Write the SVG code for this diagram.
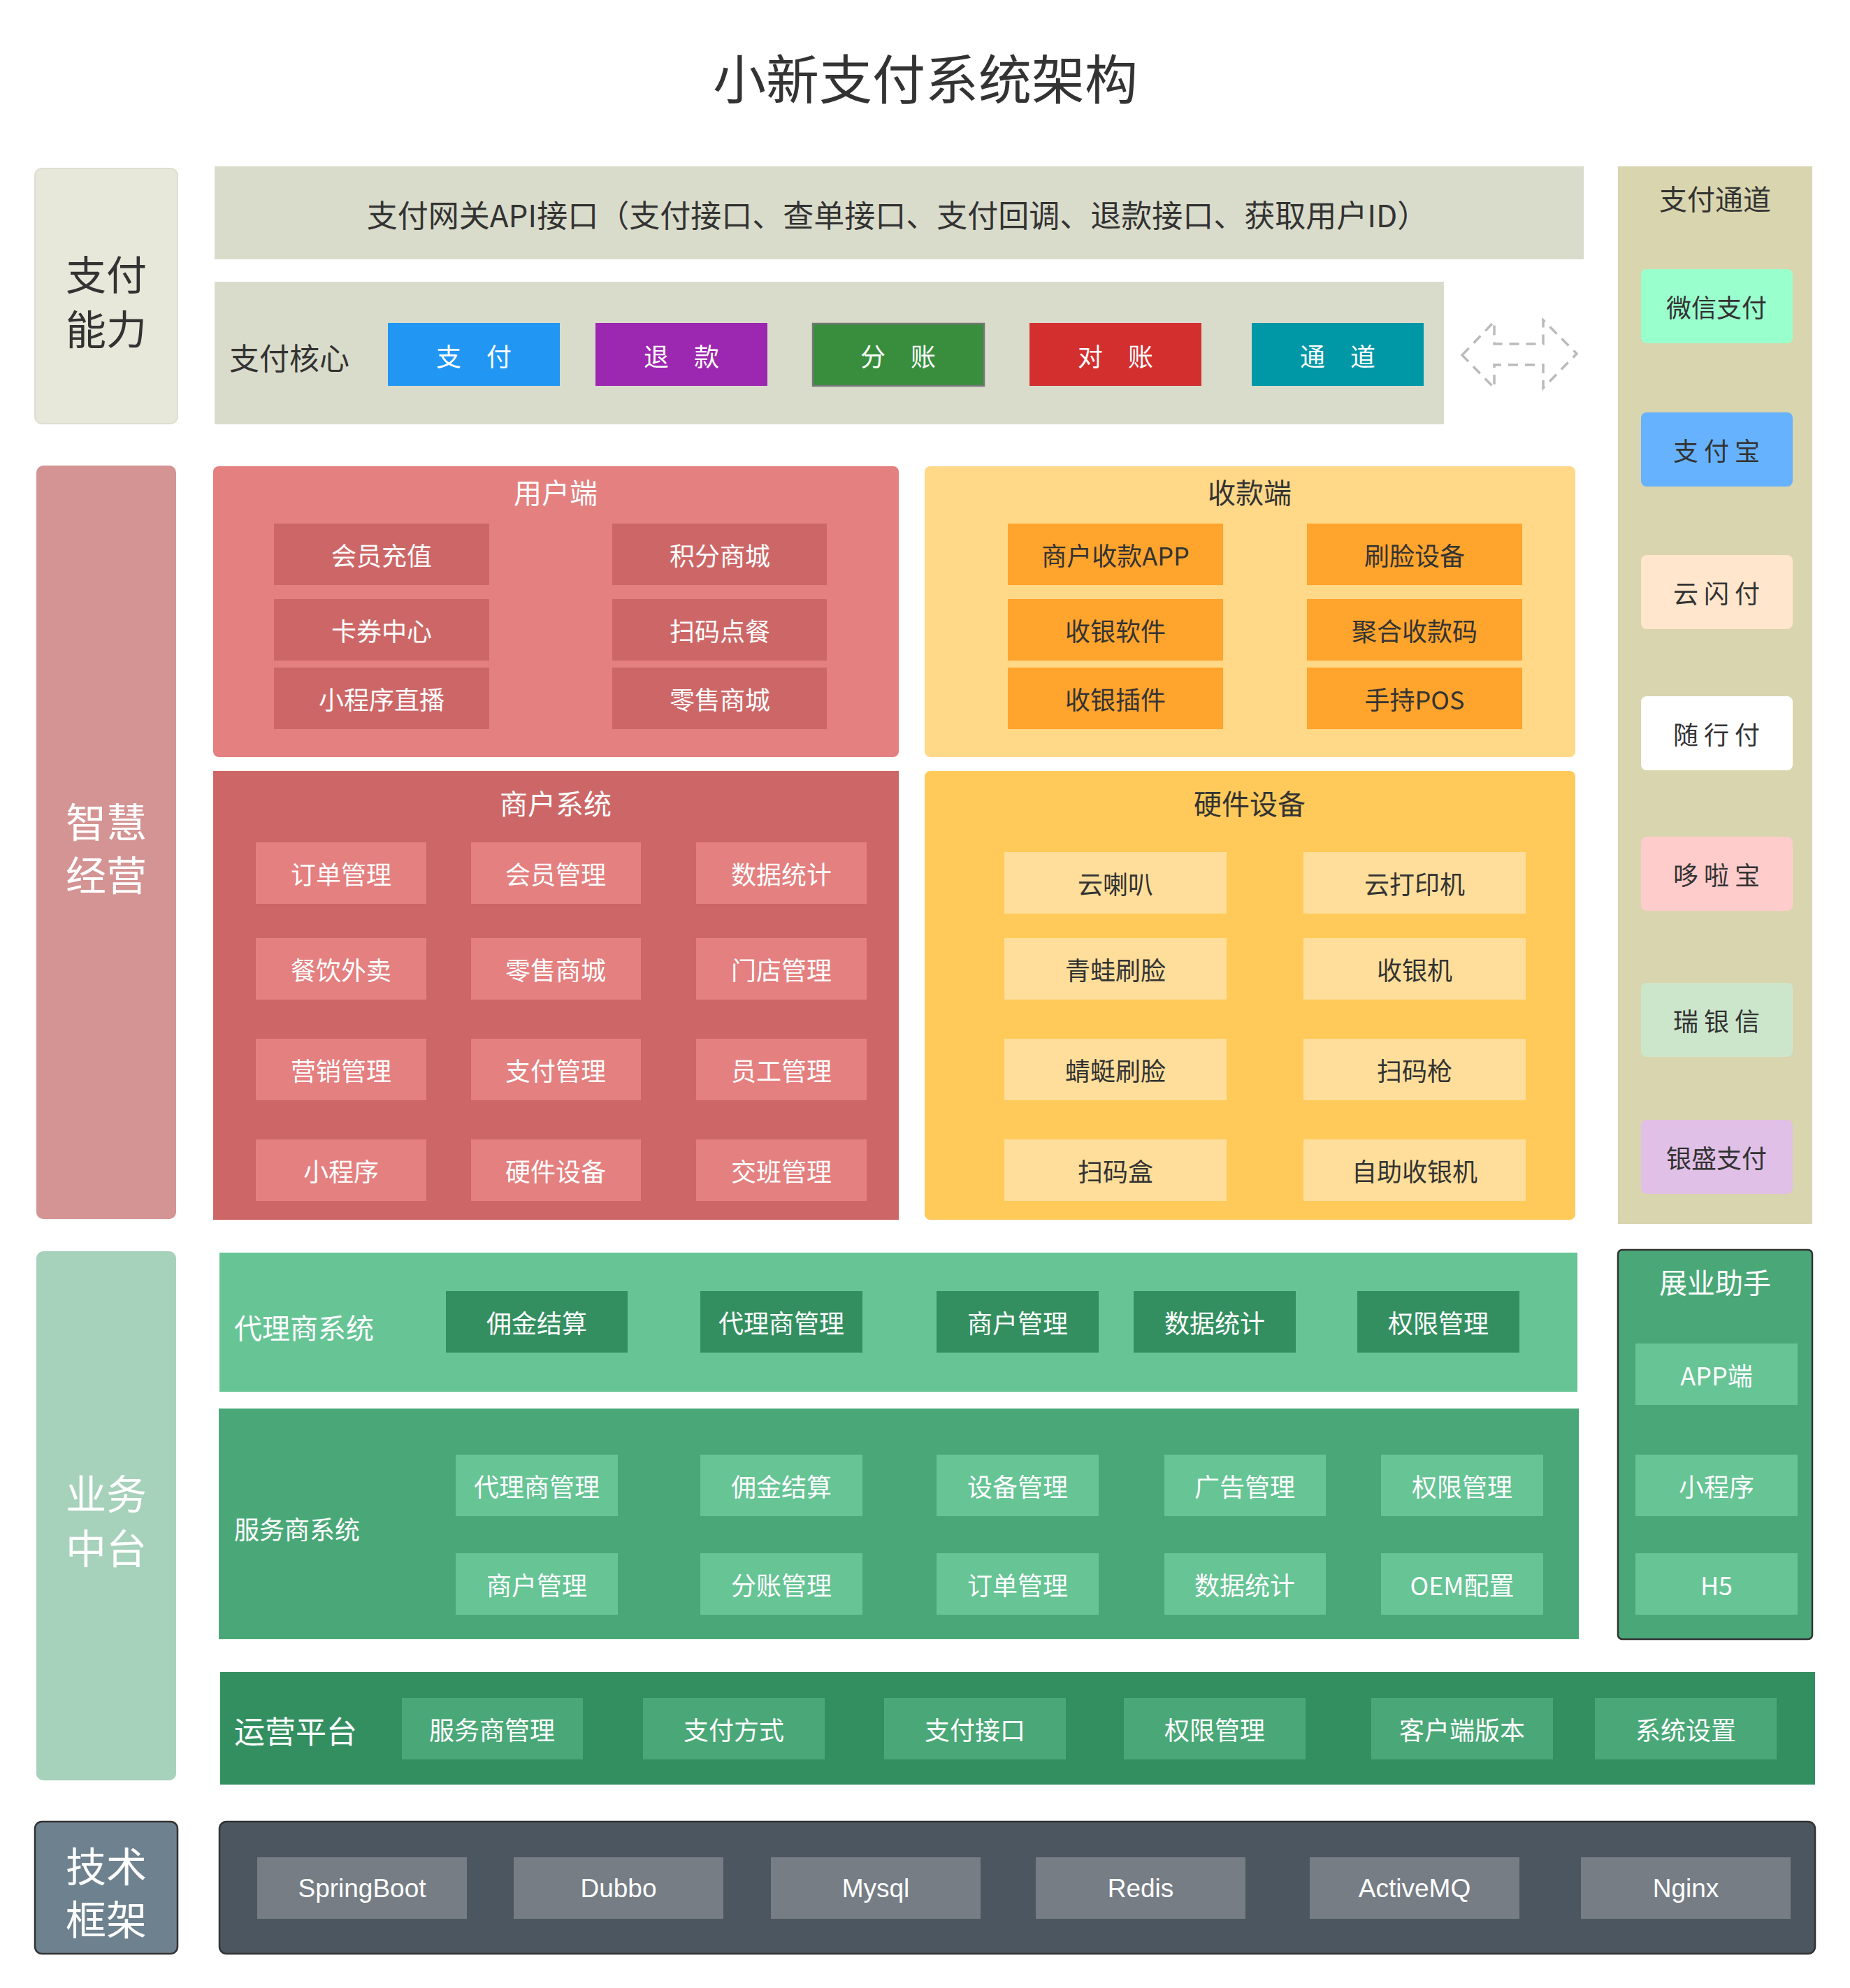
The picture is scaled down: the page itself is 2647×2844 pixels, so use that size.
<svg xmlns="http://www.w3.org/2000/svg" width="2647" height="2844" viewBox="0 0 2647 2844">
<style>
text{font-family:"Noto Sans CJK SC","Noto Sans",sans-serif;text-anchor:middle;dominant-baseline:central}
.dk{fill:#333}
.wt{fill:#fff}
.lt{text-anchor:start}
.f36{font-size:36px}
.f40{font-size:40px}
.f60{font-size:58px}
.lat{font-family:"Liberation Sans","Noto Sans",sans-serif;font-size:37px}
.ui{fill:#cd6767}
.pi{fill:#ffa42c}
.mi{fill:#e48080}
.hi{fill:#fede9a}
.g1{fill:#338f60}
.g2{fill:#66c495}
.g3{fill:#4aa878}
.ti{fill:#767d85}
</style>
<rect width="2647" height="2844" fill="#fff"/>
<g id="title"><text x="1324" y="109" class="dk" style="font-size:76px">小新支付系统架构</text></g>

<g id="pay-ability">
<rect x="50" y="241" width="204" height="365" rx="10" fill="#e7e8da" stroke="#dedfd2" stroke-width="2"/>
<text x="152" y="390" class="dk f60">支付</text>
<text x="152" y="468" class="dk f60">能力</text>
</g>

<g id="gateway">
<rect x="307" y="238" width="1959" height="133" fill="#dadccb"/>
<text x="1284" y="306" class="dk" style="font-size:44px">支付网关API接口（支付接口、查单接口、支付回调、退款接口、获取用户ID）</text>
</g>

<g id="pay-core">
<rect x="307" y="403" width="1759" height="204" fill="#dadccb"/>
<text x="328" y="510" class="dk lt" style="font-size:43px">支付核心</text>
<g id="core-pay"><rect x="555" y="462" width="246" height="90" fill="#2196f3"/><text x="678" y="508" class="wt f36">支　付</text></g>
<g id="core-refund"><rect x="852" y="462" width="246" height="90" fill="#9c27b0"/><text x="975" y="508" class="wt f36">退　款</text></g>
<g id="core-split"><rect x="1163" y="463" width="245" height="89" fill="#388e3c" stroke="#777" stroke-width="2.5"/><text x="1285" y="508" class="wt f36">分　账</text></g>
<g id="core-recon"><rect x="1473" y="462" width="246" height="90" fill="#d32f2f"/><text x="1596" y="508" class="wt f36">对　账</text></g>
<g id="core-channel"><rect x="1791" y="462" width="246" height="90" fill="#0097a7"/><text x="1914" y="508" class="wt f36">通　道</text></g>
</g>

<g id="connectors">
<polygon points="2092,508 2138,460 2138,492 2208,492 2208,458 2256,506 2208,555 2208,522 2138,522 2138,555" fill="none" stroke="#bbb" stroke-width="3.5" stroke-dasharray="14 10"/>
</g>

<g id="pay-channels">
<rect x="2315" y="238" width="278" height="1513" fill="#d9d5ae"/>
<text x="2454" y="283" class="dk f40">支付通道</text>
<g id="ch-wechat"><rect x="2348" y="385" width="217" height="106" rx="8" fill="#99ffcc"/><text x="2456" y="438" class="dk f36">微信支付</text></g>
<g id="ch-alipay"><rect x="2348" y="590" width="217" height="106" rx="8" fill="#66b2ff"/><text x="2456" y="643" class="dk f36" xml:space="preserve">支 付 宝</text></g>
<g id="ch-unionpay"><rect x="2348" y="794" width="217" height="106" rx="8" fill="#ffe6cc"/><text x="2456" y="847" class="dk f36" xml:space="preserve">云 闪 付</text></g>
<g id="ch-suixing"><rect x="2348" y="996" width="217" height="106" rx="8" fill="#ffffff"/><text x="2456" y="1049" class="dk f36" xml:space="preserve">随 行 付</text></g>
<g id="ch-duolabao"><rect x="2348" y="1197" width="217" height="106" rx="8" fill="#ffcccc"/><text x="2456" y="1250" class="dk f36" xml:space="preserve">哆 啦 宝</text></g>
<g id="ch-ruiyinxin"><rect x="2348" y="1406" width="217" height="106" rx="8" fill="#cce6cc"/><text x="2456" y="1459" class="dk f36" xml:space="preserve">瑞 银 信</text></g>
<g id="ch-yinsheng"><rect x="2348" y="1602" width="217" height="106" rx="8" fill="#e1c0e7"/><text x="2456" y="1655" class="dk f36">银盛支付</text></g>
</g>

<g id="smart-ops">
<rect x="52" y="666" width="200" height="1078" rx="10" fill="#d49494"/>
<text x="152" y="1173" class="wt f60">智慧</text>
<text x="152" y="1249" class="wt f60">经营</text>
</g>

<g id="user-side">
<rect x="305" y="667" width="981" height="416" rx="8" fill="#e48080"/>
<text x="795" y="703" class="wt f40">用户端</text>
<rect class="ui" x="392" y="749" width="308" height="88"/><text x="546" y="793" class="wt f36">会员充值</text>
<rect class="ui" x="876" y="749" width="307" height="88"/><text x="1030" y="793" class="wt f36">积分商城</text>
<rect class="ui" x="392" y="857" width="308" height="88"/><text x="546" y="901" class="wt f36">卡券中心</text>
<rect class="ui" x="876" y="857" width="307" height="88"/><text x="1030" y="901" class="wt f36">扫码点餐</text>
<rect class="ui" x="392" y="955" width="308" height="88"/><text x="546" y="999" class="wt f36">小程序直播</text>
<rect class="ui" x="876" y="955" width="307" height="88"/><text x="1030" y="999" class="wt f36">零售商城</text>
</g>

<g id="pos-side">
<rect x="1323" y="667" width="931" height="416" rx="8" fill="#ffd888"/>
<text x="1788" y="703" class="dk f40">收款端</text>
<rect class="pi" x="1442" y="749" width="308" height="88"/><text x="1596" y="793" class="dk f36">商户收款APP</text>
<rect class="pi" x="1870" y="749" width="308" height="88"/><text x="2024" y="793" class="dk f36">刷脸设备</text>
<rect class="pi" x="1442" y="857" width="308" height="88"/><text x="1596" y="901" class="dk f36">收银软件</text>
<rect class="pi" x="1870" y="857" width="308" height="88"/><text x="2024" y="901" class="dk f36">聚合收款码</text>
<rect class="pi" x="1442" y="955" width="308" height="88"/><text x="1596" y="999" class="dk f36">收银插件</text>
<rect class="pi" x="1870" y="955" width="308" height="88"/><text x="2024" y="999" class="dk f36">手持POS</text>
</g>

<g id="merchant-system">
<rect x="305" y="1103" width="981" height="642" fill="#cd6767"/>
<text x="795" y="1148" class="wt f40">商户系统</text>
<rect class="mi" x="366" y="1205" width="244" height="88"/><text x="488" y="1249" class="wt f36">订单管理</text>
<rect class="mi" x="674" y="1205" width="243" height="88"/><text x="795" y="1249" class="wt f36">会员管理</text>
<rect class="mi" x="996" y="1205" width="244" height="88"/><text x="1118" y="1249" class="wt f36">数据统计</text>
<rect class="mi" x="366" y="1342" width="244" height="88"/><text x="488" y="1386" class="wt f36">餐饮外卖</text>
<rect class="mi" x="674" y="1342" width="243" height="88"/><text x="795" y="1386" class="wt f36">零售商城</text>
<rect class="mi" x="996" y="1342" width="244" height="88"/><text x="1118" y="1386" class="wt f36">门店管理</text>
<rect class="mi" x="366" y="1486" width="244" height="88"/><text x="488" y="1530" class="wt f36">营销管理</text>
<rect class="mi" x="674" y="1486" width="243" height="88"/><text x="795" y="1530" class="wt f36">支付管理</text>
<rect class="mi" x="996" y="1486" width="244" height="88"/><text x="1118" y="1530" class="wt f36">员工管理</text>
<rect class="mi" x="366" y="1630" width="244" height="88"/><text x="488" y="1674" class="wt f36">小程序</text>
<rect class="mi" x="674" y="1630" width="243" height="88"/><text x="795" y="1674" class="wt f36">硬件设备</text>
<rect class="mi" x="996" y="1630" width="244" height="88"/><text x="1118" y="1674" class="wt f36">交班管理</text>
</g>

<g id="hardware">
<rect x="1323" y="1103" width="931" height="642" rx="8" fill="#ffca5a"/>
<text x="1788" y="1148" class="dk f40">硬件设备</text>
<rect class="hi" x="1437" y="1219" width="318" height="88"/><text x="1596" y="1263" class="dk f36">云喇叭</text>
<rect class="hi" x="1865" y="1219" width="318" height="88"/><text x="2024" y="1263" class="dk f36">云打印机</text>
<rect class="hi" x="1437" y="1342" width="318" height="88"/><text x="1596" y="1386" class="dk f36">青蛙刷脸</text>
<rect class="hi" x="1865" y="1342" width="318" height="88"/><text x="2024" y="1386" class="dk f36">收银机</text>
<rect class="hi" x="1437" y="1486" width="318" height="88"/><text x="1596" y="1530" class="dk f36">蜻蜓刷脸</text>
<rect class="hi" x="1865" y="1486" width="318" height="88"/><text x="2024" y="1530" class="dk f36">扫码枪</text>
<rect class="hi" x="1437" y="1630" width="318" height="88"/><text x="1596" y="1674" class="dk f36">扫码盒</text>
<rect class="hi" x="1865" y="1630" width="318" height="88"/><text x="2024" y="1674" class="dk f36">自助收银机</text>
</g>

<g id="business-center">
<rect x="52" y="1790" width="200" height="757" rx="10" fill="#a6d1bb"/>
<text x="152" y="2134" class="wt f60">业务</text>
<text x="152" y="2212" class="wt f60">中台</text>
</g>

<g id="agent-system">
<rect x="314" y="1792" width="1943" height="199" fill="#66c495"/>
<text x="335" y="1898" class="wt lt f40">代理商系统</text>
<rect class="g1" x="638" y="1847" width="260" height="88"/><text x="768" y="1891" class="wt f36">佣金结算</text>
<rect class="g1" x="1002" y="1847" width="232" height="88"/><text x="1118" y="1891" class="wt f36">代理商管理</text>
<rect class="g1" x="1340" y="1847" width="232" height="88"/><text x="1456" y="1891" class="wt f36">商户管理</text>
<rect class="g1" x="1622" y="1847" width="232" height="88"/><text x="1738" y="1891" class="wt f36">数据统计</text>
<rect class="g1" x="1942" y="1847" width="232" height="88"/><text x="2058" y="1891" class="wt f36">权限管理</text>
</g>

<g id="provider-system">
<rect x="313" y="2015" width="1946" height="330" fill="#4aa878"/>
<text x="335" y="2186" class="wt lt f36">服务商系统</text>
<rect class="g2" x="652" y="2081" width="232" height="88"/><text x="768" y="2125" class="wt f36">代理商管理</text>
<rect class="g2" x="1002" y="2081" width="232" height="88"/><text x="1118" y="2125" class="wt f36">佣金结算</text>
<rect class="g2" x="1340" y="2081" width="232" height="88"/><text x="1456" y="2125" class="wt f36">设备管理</text>
<rect class="g2" x="1666" y="2081" width="231" height="88"/><text x="1781" y="2125" class="wt f36">广告管理</text>
<rect class="g2" x="1976" y="2081" width="232" height="88"/><text x="2092" y="2125" class="wt f36">权限管理</text>
<rect class="g2" x="652" y="2222" width="232" height="88"/><text x="768" y="2266" class="wt f36">商户管理</text>
<rect class="g2" x="1002" y="2222" width="232" height="88"/><text x="1118" y="2266" class="wt f36">分账管理</text>
<rect class="g2" x="1340" y="2222" width="232" height="88"/><text x="1456" y="2266" class="wt f36">订单管理</text>
<rect class="g2" x="1666" y="2222" width="231" height="88"/><text x="1781" y="2266" class="wt f36">数据统计</text>
<rect class="g2" x="1976" y="2222" width="232" height="88"/><text x="2092" y="2266" class="wt f36">OEM配置</text>
</g>

<g id="sales-assistant">
<rect x="2315" y="1788" width="278" height="557" rx="6" fill="#4aa878" stroke="#333" stroke-width="2.5"/>
<text x="2454" y="1833" class="wt f40">展业助手</text>
<rect class="g2" x="2340" y="1922" width="232" height="88"/><text x="2456" y="1966" class="wt f36">APP端</text>
<rect class="g2" x="2340" y="2081" width="232" height="88"/><text x="2456" y="2125" class="wt f36">小程序</text>
<rect class="g2" x="2340" y="2222" width="232" height="88"/><text x="2456" y="2266" class="wt f36">H5</text>
</g>

<g id="ops-platform">
<rect x="315" y="2392" width="2282" height="161" fill="#338f60"/>
<text x="335" y="2475" class="wt lt" style="font-size:44px">运营平台</text>
<rect class="g3" x="575" y="2429" width="259" height="88"/><text x="704" y="2473" class="wt f36">服务商管理</text>
<rect class="g3" x="920" y="2429" width="260" height="88"/><text x="1050" y="2473" class="wt f36">支付方式</text>
<rect class="g3" x="1265" y="2429" width="260" height="88"/><text x="1395" y="2473" class="wt f36">支付接口</text>
<rect class="g3" x="1608" y="2429" width="260" height="88"/><text x="1738" y="2473" class="wt f36">权限管理</text>
<rect class="g3" x="1962" y="2429" width="260" height="88"/><text x="2092" y="2473" class="wt f36">客户端版本</text>
<rect class="g3" x="2282" y="2429" width="260" height="88"/><text x="2412" y="2473" class="wt f36">系统设置</text>
</g>

<g id="tech-label">
<rect x="50" y="2606" width="204" height="189" rx="10" fill="#6e818e" stroke="#333" stroke-width="2.5"/>
<text x="152" y="2667" class="wt f60">技术</text>
<text x="152" y="2743" class="wt f60">框架</text>
</g>

<g id="tech-stack">
<rect x="314" y="2606" width="2283" height="189" rx="10" fill="#4b5660" stroke="#333" stroke-width="2.5"/>
<rect class="ti" x="368" y="2657" width="300" height="88"/><text x="518" y="2701" class="wt lat">SpringBoot</text>
<rect class="ti" x="735" y="2657" width="300" height="88"/><text x="885" y="2701" class="wt lat">Dubbo</text>
<rect class="ti" x="1103" y="2657" width="300" height="88"/><text x="1253" y="2701" class="wt lat">Mysql</text>
<rect class="ti" x="1482" y="2657" width="300" height="88"/><text x="1632" y="2701" class="wt lat">Redis</text>
<rect class="ti" x="1874" y="2657" width="300" height="88"/><text x="2024" y="2701" class="wt lat">ActiveMQ</text>
<rect class="ti" x="2262" y="2657" width="300" height="88"/><text x="2412" y="2701" class="wt lat">Nginx</text>
</g>
</svg>
